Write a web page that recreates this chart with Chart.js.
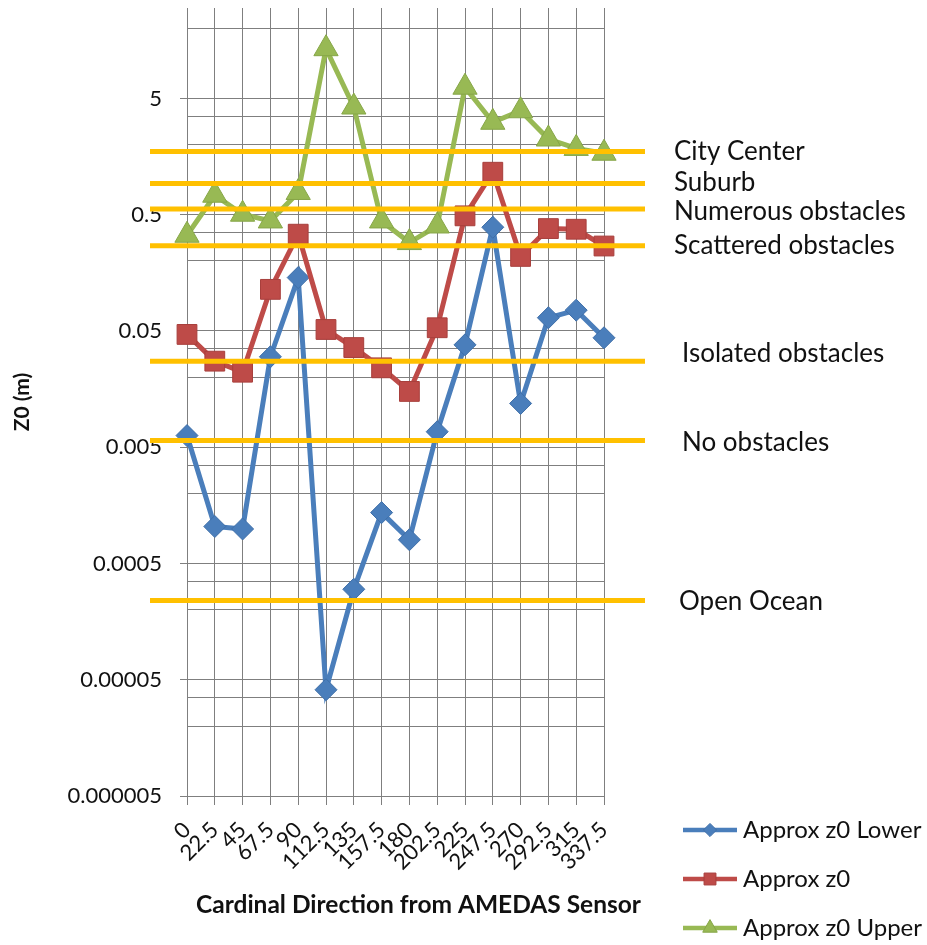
<!DOCTYPE html>
<html>
<head>
<meta charset="utf-8">
<title>Z0 by direction</title>
<script src="https://cdn.jsdelivr.net/npm/chart.js@4/dist/chart.umd.min.js"></script>
<style>
  body { margin: 0; background: #fff; }
  #wrap { width: 927px; height: 945px; }
</style>
</head>
<body>
<div id="wrap"><canvas id="z0Chart"></canvas></div>
<script>
// wind direction bins (degrees)
const directions = ["0", "22.5", "45", "67.5", "90", "112.5", "135", "157.5",
                    "180", "202.5", "225", "247.5", "270", "292.5", "315", "337.5"];

// roughness length estimates (m)
const z0Lower = [0.0063, 0.00104, 0.00099, 0.030, 0.144, 0.000041, 0.0003, 0.00137,
                 0.0008, 0.0068, 0.038, 0.39, 0.0119, 0.065, 0.0755, 0.0437];
const z0Mid   = [0.0467, 0.0275, 0.0221, 0.114, 0.34, 0.0515, 0.036, 0.0241,
                 0.0151, 0.0533, 0.489, 1.16, 0.219, 0.38, 0.375, 0.269];
const z0Upper = [0.333, 0.736, 0.505, 0.442, 0.777, 13.4, 4.22, 0.442,
                 0.288, 0.40, 6.25, 3.12, 3.92, 2.24, 1.86, 1.69];

// labelled decades on the log axis
const yTickValues = [0.000005, 0.00005, 0.0005, 0.005, 0.05, 0.5, 5];
const yTickLabels = ["0.000005", "0.00005", "0.0005", "0.005", "0.05", "0.5", "5"];
const yMin = 0.000005;
const yMax = 30;

// terrain classes and their typical z0 (m)
const terrainNames = ["City Center", "Suburb", "Numerous obstacles", "Scattered obstacles",
                      "Isolated obstacles", "No obstacles", "Open Ocean"];
const terrainZ0 = [1.75, 0.93, 0.56, 0.27, 0.0275, 0.0057, 0.00024];

const FONT = "Lato, 'Open Sans', sans-serif";
const GRID = "#7f7f7f";

const series = [
  { label: "Approx z0 Lower", data: z0Lower, color: "#4A7EBB", edge: "#3f6fa8", style: "rectRot", r: 11, order: 3 },
  { label: "Approx z0",       data: z0Mid,   color: "#BE4B48", edge: "#a83f3c", style: "rect",    r: 14, order: 2 },
  { label: "Approx z0 Upper", data: z0Upper, color: "#98B954", edge: "#86a647", style: "triangle", r: 14, order: 1 }
];

// gold reference lines with their names on the right
const terrainLines = {
  id: "terrainLines",
  afterDatasetsDraw(chart) {
    const { ctx, chartArea, scales } = chart;
    const nudge = [0, -1, 3, 0, -8, 2, 1];
    ctx.save();
    ctx.strokeStyle = "#FFC000";
    ctx.lineWidth = 5;
    ctx.fillStyle = "#111";
    ctx.font = "26px " + FONT;
    ctx.textBaseline = "middle";
    ctx.textAlign = "left";
    terrainZ0.forEach((v, i) => {
      const y = scales.y.getPixelForValue(v);
      ctx.beginPath();
      ctx.moveTo(chartArea.left - 37, y);
      ctx.lineTo(chartArea.right + 41, y);
      ctx.stroke();
      const tx = chartArea.right + (i < 4 ? 70 : i === 6 ? 75 : 78);
      ctx.fillText(terrainNames[i], tx, y + nudge[i]);
    });
    ctx.restore();
  }
};

// legend in the lower right corner and the x axis title
const sideLegend = {
  id: "sideLegend",
  afterDraw(chart) {
    const { ctx, chartArea } = chart;
    ctx.save();
    chart.data.datasets.forEach((ds, i) => {
      const y = 830 + i * 49;
      const x0 = chartArea.right + 79;
      const x1 = chartArea.right + 133;
      ctx.strokeStyle = ds.borderColor;
      ctx.lineWidth = 4.5;
      ctx.beginPath();
      ctx.moveTo(x0, y);
      ctx.lineTo(x1, y);
      ctx.stroke();
      ctx.fillStyle = ds.pointBackgroundColor;
      ctx.strokeStyle = ds.pointBorderColor;
      ctx.lineWidth = 1;
      Chart.helpers.drawPoint(ctx, { pointStyle: ds.pointStyle, radius: ds.pointRadius * 0.6, rotation: 0, borderWidth: 1 }, (x0 + x1) / 2, y);
      ctx.fillStyle = "#111";
      ctx.font = "24px " + FONT;
      ctx.textBaseline = "middle";
      ctx.textAlign = "left";
      ctx.fillText(ds.label, x1 + 6, y);
    });
    ctx.fillStyle = "#111";
    ctx.font = "bold 24.5px " + FONT;
    ctx.textAlign = "center";
    ctx.textBaseline = "middle";
    ctx.fillText("Cardinal Direction from AMEDAS Sensor", (chartArea.left + chartArea.right) / 2 + 23, 905);
    ctx.restore();
  }
};

new Chart(document.getElementById("z0Chart"), {
  type: "line",
  data: {
    labels: directions,
    datasets: series.map(s => ({
      label: s.label,
      data: s.data,
      order: s.order,
      borderColor: s.color,
      backgroundColor: s.color,
      borderWidth: 5,
      pointStyle: s.style,
      pointRadius: s.r,
      pointHoverRadius: s.r,
      pointBackgroundColor: s.color,
      pointBorderColor: s.edge,
      pointBorderWidth: 1,
      tension: 0,
      clip: false
    }))
  },
  options: {
    responsive: true,
    maintainAspectRatio: false,
    animation: false,
    events: [],
    layout: { autoPadding: false, padding: { top: 8, right: 323, bottom: 0, left: 0 } },
    plugins: {
      legend: { display: false },
      tooltip: { enabled: false }
    },
    scales: {
      x: {
        type: "category",
        offset: false,
        grid: { color: GRID, tickColor: GRID, tickLength: 9, offset: false },
        border: { color: GRID },
        ticks: {
          autoSkip: false,
          minRotation: 45,
          maxRotation: 45,
          padding: 12,
          color: "#111",
          font: { family: FONT, size: 22 }
        },
        afterFit(scale) {
          scale.height = 149;
          scale.paddingLeft = 0;
          scale.paddingRight = 0;
        }
      },
      y: {
        type: "logarithmic",
        min: yMin,
        max: yMax,
        grid: {
          color: GRID,
          tickLength: 7,
          tickColor: c => (c.tick && c.tick.major ? GRID : "rgba(0,0,0,0)")
        },
        border: { color: GRID },
        afterBuildTicks(scale) {
          const ticks = [];
          yTickValues.forEach(base => {
            for (let k = 1; k <= 9; k++) {
              const v = base * k;
              if (v <= yMax * 1.0001) ticks.push({ value: v, major: k === 1 });
            }
          });
          scale.ticks = ticks;
        },
        ticks: {
          padding: 18,
          color: "#111",
          font: { family: FONT, size: 22 },
          callback(value) {
            const k = yTickValues.findIndex(v => Math.abs(v - value) / v < 1e-6);
            return k >= 0 ? yTickLabels[k] : "";
          }
        },
        title: {
          display: true,
          text: "Z0 (m)",
          color: "#111",
          font: { family: FONT, size: 21, weight: "bold" },
          padding: { top: 10, bottom: 0 }
        },
        afterFit(scale) {
          scale.width = 187;
          scale.paddingTop = 0;
          scale.paddingBottom = 0;
        }
      }
    }
  },
  plugins: [terrainLines, sideLegend]
});
</script>
</body>
</html>
